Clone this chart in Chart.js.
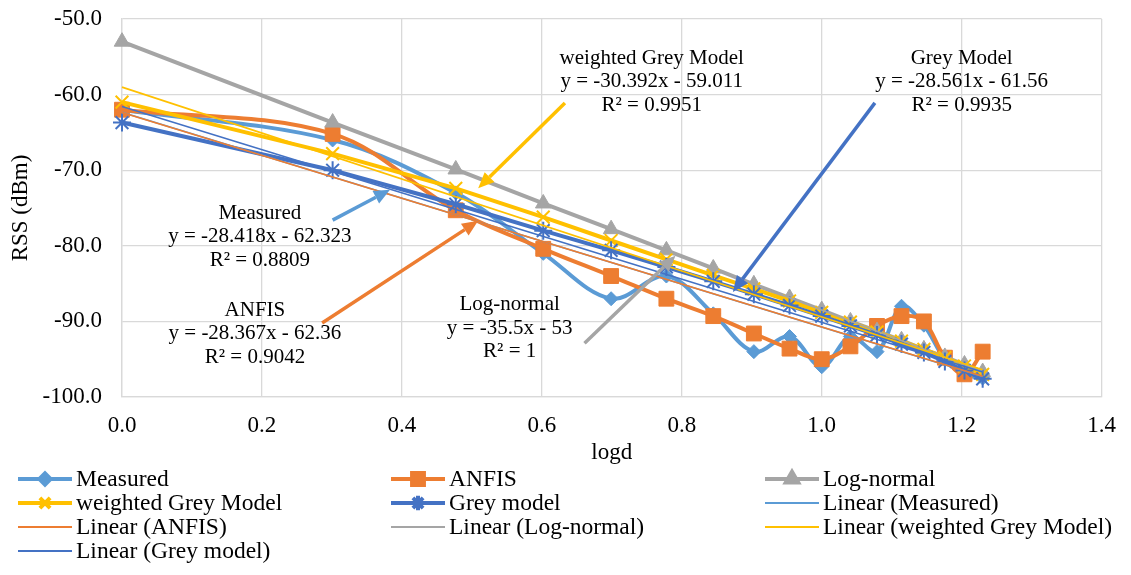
<!DOCTYPE html>
<html>
<head>
<meta charset="utf-8">
<title>RSS vs logd</title>
<script src="https://cdn.jsdelivr.net/npm/chart.js"></script>
<style>
  body { margin: 0; background: #fff; }
  #wrap { width: 1131px; height: 575px; }
</style>
</head>
<body>
<div id="wrap"><canvas id="chart" width="1131" height="575"></canvas></div>
<script>
// x values (log10 of distance)
const logd = [0, 0.301, 0.477, 0.602, 0.699, 0.778, 0.845, 0.903, 0.954, 1.0, 1.041, 1.079, 1.114, 1.146, 1.176, 1.204, 1.230];

// RSS values (dBm)
const measured = [-62.0, -66.0, -73.0, -81.0, -87.0, -84.0, -89.0, -94.0, -92.0, -96.0, -92.0, -94.0, -88.0, -90.5, -95.0, -97.0, -97.5];
const anfis = [-62.0, -65.2, -75.3, -80.4, -84.0, -87.0, -89.3, -91.6, -93.6, -95.0, -93.3, -90.6, -89.3, -90.0, -94.8, -97.0, -94.0];
const logNormal = [-53.0, -63.7, -69.9, -74.4, -77.8, -80.6, -83.0, -85.1, -86.9, -88.5, -90.0, -91.3, -92.5, -93.7, -94.7, -95.7, -96.7];
const weightedGrey = [-61.0, -67.8, -72.4, -76.2, -79.3, -81.8, -83.9, -85.7, -87.3, -88.8, -90.1, -91.4, -92.6, -93.7, -94.8, -95.9, -97.0];
const greyModel = [-63.7, -70.0, -74.5, -78.0, -80.6, -82.8, -84.7, -86.4, -87.9, -89.3, -90.6, -91.8, -93.0, -94.1, -95.3, -96.5, -97.6];

const seriesNames = ["Measured", "ANFIS", "Log-normal", "weighted Grey Model", "Grey model"];

// trendline equations printed on the chart
const noteTitles = ["Measured", "ANFIS", "Log-normal", "weighted Grey Model", "Grey Model"];
const trendSlopes = [-28.418, -28.367, -35.5, -30.392, -28.561];
const trendIntercepts = [-62.323, -62.36, -53, -59.011, -61.56];
const trendR2 = ["0.8809", "0.9042", "1", "0.9951", "0.9935"];

const colors = ["#5B9BD5", "#ED7D31", "#A5A5A5", "#FFC000", "#4472C4"];
const markers = ["rectRot", "rect", "triangle", "crossRot", "star"];
const markerSize = [7, 10.5, 9, 9, 9];
const smooth = [0.35, 0.35, 0, 0, 0];
const FONT = "'Liberation Serif', 'Times New Roman', serif";

const allSeries = [measured, anfis, logNormal, weightedGrey, greyModel];

const datasets = [];
allSeries.forEach((vals, i) => {
  datasets.push({
    label: seriesNames[i],
    data: vals.map((v, k) => ({ x: logd[k], y: v })),
    showLine: true,
    clip: false,
    borderColor: colors[i],
    backgroundColor: colors[i],
    borderWidth: 4,
    tension: smooth[i],
    pointStyle: markers[i],
    pointRadius: markerSize[i],
    pointBorderWidth: markers[i] === "crossRot" || markers[i] === "star" ? 2 : 1,
    order: 20 - i
  });
});
allSeries.forEach((vals, i) => {
  const x0 = logd[0], x1 = logd[logd.length - 1];
  datasets.push({
    label: "Linear (" + seriesNames[i] + ")",
    data: [
      { x: x0, y: trendSlopes[i] * x0 + trendIntercepts[i] },
      { x: x1, y: trendSlopes[i] * x1 + trendIntercepts[i] }
    ],
    showLine: true,
    clip: false,
    borderColor: colors[i],
    backgroundColor: colors[i],
    borderWidth: 1.6,
    pointRadius: 0,
    isTrend: true,
    order: 10 - i
  });
});

// where the equation boxes and their arrows sit (data units)
const notePlaces = [
  { x: 0.197, y: -75.66, from: [0.301, -76.6], to: [0.383, -72.6] },
  { x: 0.190, y: -88.5, from: [0.286, -90.2], to: [0.509, -76.7] },
  { x: 0.554, y: -87.8, from: [0.661, -92.9], to: [0.791, -81.3] },
  { x: 0.757, y: -55.2, from: [0.633, -61.1], to: [0.509, -72.4] },
  { x: 1.200, y: -55.2, from: [1.076, -61.1], to: [0.873, -86.1] }
];

function drawArrow(ctx, x1, y1, x2, y2, color) {
  const ang = Math.atan2(y2 - y1, x2 - x1);
  const head = 16, half = 7;
  const bx = x2 - Math.cos(ang) * head, by = y2 - Math.sin(ang) * head;
  ctx.strokeStyle = color;
  ctx.fillStyle = color;
  ctx.lineWidth = 3.5;
  ctx.beginPath();
  ctx.moveTo(x1, y1);
  ctx.lineTo(bx, by);
  ctx.stroke();
  ctx.beginPath();
  ctx.moveTo(x2, y2);
  ctx.lineTo(bx + Math.sin(ang) * half, by - Math.cos(ang) * half);
  ctx.lineTo(bx - Math.sin(ang) * half, by + Math.cos(ang) * half);
  ctx.closePath();
  ctx.fill();
}

const notesPlugin = {
  id: "notes",
  afterDatasetsDraw(chart) {
    const ctx = chart.ctx, xs = chart.scales.x, ys = chart.scales.y;
    ctx.save();
    notePlaces.forEach((p, i) => {
      drawArrow(ctx, xs.getPixelForValue(p.from[0]), ys.getPixelForValue(p.from[1]),
        xs.getPixelForValue(p.to[0]), ys.getPixelForValue(p.to[1]), colors[i]);
      const lines = [
        noteTitles[i],
        "y = " + trendSlopes[i] + "x - " + Math.abs(trendIntercepts[i]),
        "R\u00B2 = " + trendR2[i]
      ];
      ctx.fillStyle = "#000";
      ctx.font = "21px " + FONT;
      ctx.textAlign = "center";
      ctx.textBaseline = "middle";
      const cx = xs.getPixelForValue(p.x), cy = ys.getPixelForValue(p.y);
      lines.forEach((t, k) => ctx.fillText(t, cx, cy + k * 23.5));
    });
    ctx.restore();
  }
};

const legendPlugin = {
  id: "gridLegend",
  afterDraw(chart) {
    const ctx = chart.ctx;
    const cols = [18, 391, 765], rowY = 479, rowH = 24, lineLen = 54;
    ctx.save();
    chart.data.datasets.forEach((ds, i) => {
      const x = cols[i % 3], y = rowY + Math.floor(i / 3) * rowH;
      ctx.strokeStyle = ds.borderColor;
      ctx.lineWidth = ds.isTrend ? 2 : 4;
      ctx.beginPath();
      ctx.moveTo(x, y);
      ctx.lineTo(x + lineLen, y);
      ctx.stroke();
      if (!ds.isTrend) {
        ctx.fillStyle = ds.backgroundColor;
        Chart.helpers.drawPoint(ctx, {
          pointStyle: ds.pointStyle,
          radius: ds.pointRadius * 0.8,
          borderWidth: ds.pointBorderWidth,
          rotation: 0
        }, x + lineLen / 2, y);
      }
      ctx.fillStyle = "#000";
      ctx.font = "23.5px " + FONT;
      ctx.textAlign = "left";
      ctx.textBaseline = "middle";
      ctx.fillText(ds.label, x + lineLen + 4, y + 1);
    });
    ctx.restore();
  }
};

new Chart(document.getElementById("chart"), {
  type: "scatter",
  data: { datasets: datasets },
  options: {
    responsive: false,
    animation: false,
    devicePixelRatio: 1,
    layout: { padding: { top: 19, right: 29, bottom: 108, left: 0 } },
    plugins: { legend: { display: false }, tooltip: { enabled: false } },
    scales: {
      x: {
        type: "linear",
        min: 0,
        max: 1.4,
        ticks: {
          stepSize: 0.2,
          padding: 15,
          color: "#000",
          font: { family: FONT, size: 23 },
          callback: v => Number(v).toFixed(1)
        },
        grid: { color: "#D9D9D9", drawTicks: false, lineWidth: 1.3 },
        border: { color: "#D9D9D9", width: 1.3 },
        title: { display: true, text: "logd", color: "#000", font: { family: FONT, size: 23 }, padding: { top: 0, bottom: 0 } },
        afterFit: s => { s.height = 70; s.paddingTop = 0; s.paddingBottom = 0; }
      },
      y: {
        min: -100,
        max: -50,
        ticks: {
          stepSize: 10,
          padding: 20,
          color: "#000",
          font: { family: FONT, size: 23 },
          callback: v => Number(v).toFixed(1)
        },
        grid: { color: "#D9D9D9", drawTicks: false, lineWidth: 1.3 },
        border: { color: "#D9D9D9", width: 1.3 },
        title: { display: true, text: "RSS (dBm)", color: "#000", font: { family: FONT, size: 23 }, padding: { top: 7, bottom: 0 } },
        afterFit: s => { s.width = 122; s.paddingTop = 0; s.paddingBottom = 0; }
      }
    }
  },
  plugins: [notesPlugin, legendPlugin]
});
</script>
</body>
</html>
